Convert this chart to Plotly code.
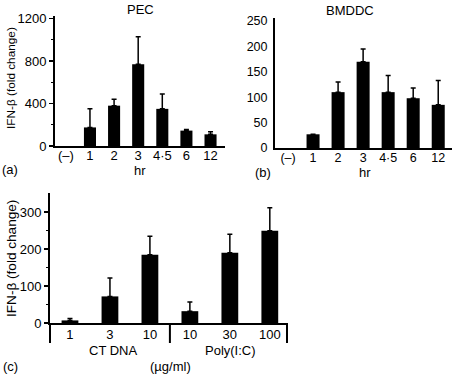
import plotly.graph_objects as go

# Panel (a) PEC
hr_labels = ["(–)", "1", "2", "3", "4·5", "6", "12"]
pec_values = [0, 175, 380, 770, 350, 145, 110]
pec_err = [0, 175, 60, 260, 140, 10, 25]
pec_ticks = [0, 400, 800, 1200]
pec_minor = [200, 600, 1000]

# Panel (b) BMDDC
bmddc_values = [0, 27, 110, 170, 110, 98, 85]
bmddc_err = [0, 0, 20, 25, 33, 20, 48]
bmddc_ticks = [0, 50, 100, 150, 200, 250]

# Panel (c)
c_labels = ["1", "3", "10", "10", "30", "100"]
c_values = [7, 72, 185, 32, 190, 250]
c_err = [5, 50, 50, 25, 50, 62]
c_groups = ["CT DNA", "Poly(I:C)"]
c_ticks = [0, 100, 200, 300]
c_minor = [50, 150, 250]

y_title = "IFN-β (fold change)"

W, H = 452, 378
def px(x): return x / W
def py(y): return 1 - y / H

FONT = "Liberation Sans, Arial, Helvetica, sans-serif"

fig = go.Figure()

def bar(vals, err, xa, ya, width):
    keep = [i for i, v in enumerate(vals) if v > 0]
    return go.Bar(
        x=keep, y=[vals[i] for i in keep], xaxis=xa, yaxis=ya, width=width,
        marker=dict(color="black", line=dict(width=0)),
        error_y=dict(type="data", symmetric=False, array=[err[i] for i in keep],
                     arrayminus=[0] * len(keep), color="black",
                     thickness=1.5, width=2.5),
        showlegend=False, hoverinfo="skip",
    )

idx7 = list(range(len(hr_labels)))
idx6 = list(range(len(c_labels)))
fig.add_trace(bar(pec_values, pec_err, "x", "y", 0.5))
fig.add_trace(bar(bmddc_values, bmddc_err, "x2", "y2", 0.52))
fig.add_trace(bar(c_values, c_err, "x3", "y3", 0.42))

axis_common = dict(showline=True, linecolor="black", linewidth=2,
                   showgrid=False, zeroline=False, fixedrange=True,
                   automargin=False)
ytick = dict(ticks="outside", ticklen=4, tickwidth=1.5, tickcolor="black")

def minor(vals):
    return dict(tickvals=vals, ticks="outside", ticklen=2, tickwidth=1.2,
                tickcolor="black", showgrid=False)

fig.update_layout(
    width=W, height=H, margin=dict(l=0, r=0, t=0, b=0, pad=0),
    paper_bgcolor="white", plot_bgcolor="white",
    font=dict(family=FONT, size=13, color="black"),
    bargap=0.5,
    xaxis=dict(domain=[px(55), px(225)], range=[-0.45, 6.6], anchor="y",
               tickvals=idx7, ticktext=hr_labels, ticks="", **axis_common,
               tickfont=dict(size=13), ticklabelstandoff=-4),
    yaxis=dict(domain=[py(146), py(16)], range=[0, 1225], anchor="x",
               tickvals=pec_ticks, **ytick, **axis_common,
               minor=minor(pec_minor),
               tickfont=dict(size=13)),
    xaxis2=dict(domain=[px(275), 1.0], range=[-0.52, 6.55], anchor="y2",
                tickvals=idx7, ticktext=hr_labels, ticks="", **axis_common,
                tickfont=dict(size=12.5), ticklabelstandoff=-3),
    yaxis2=dict(domain=[py(148), py(18)], range=[0, 256], anchor="x2",
                tickvals=bmddc_ticks, ticks="", **axis_common,
                tickfont=dict(size=12.5), ticklabelstandoff=3),
    xaxis3=dict(domain=[px(50), px(287)], range=[-0.5, 5.43], anchor="y3",
                tickvals=idx6, ticktext=c_labels, ticks="", **axis_common,
                tickfont=dict(size=13), ticklabelstandoff=-2),
    yaxis3=dict(domain=[py(323), py(193)], range=[0, 352], anchor="x3",
                tickvals=c_ticks, **ytick, **axis_common,
                minor=minor(c_minor),
                tickfont=dict(size=13)),
)

ann = [
    dict(text="PEC", x=px(140), y=py(9)),
    dict(text="BMDDC", x=px(350), y=py(10)),
    dict(text="hr", x=px(140), y=py(170)),
    dict(text="hr", x=px(365), y=py(172)),
    dict(text="(a)", x=px(10), y=py(169)),
    dict(text="(b)", x=px(263), y=py(172)),
    dict(text=c_groups[0], x=px(113), y=py(350)),
    dict(text=c_groups[1], x=px(230), y=py(350)),
    dict(text="(µg/ml)", x=px(170), y=py(366)),
    dict(text="(c)", x=px(10), y=py(366)),
]
for a in ann:
    fig.add_annotation(xref="paper", yref="paper", showarrow=False,
                       xanchor="center", yanchor="middle",
                       font=dict(family=FONT, size=13, color="black"), **a)

# rotated y-axis titles
for yc, fs in [(78, 11.8), (259, 13.6)]:
    fig.add_annotation(xref="paper", yref="paper", showarrow=False,
                       text=y_title, textangle=-90, x=px(11), y=py(yc),
                       xanchor="center", yanchor="middle",
                       font=dict(family=FONT, size=fs, color="black"))

# group separator lines in panel (c)
for xr, xv in [("x3 domain", 0), ("x3", 2.5), ("x3 domain", 1)]:
    fig.add_shape(type="line", xref=xr, yref="paper", x0=xv, x1=xv,
                  y0=py(323), y1=py(343), line=dict(color="black", width=2))

fig.write_html(
    "out.html",
    config={"displayModeBar": False, "staticPlot": True},
    post_script="document.body.style.margin='0';document.body.style.padding='0';",
)
